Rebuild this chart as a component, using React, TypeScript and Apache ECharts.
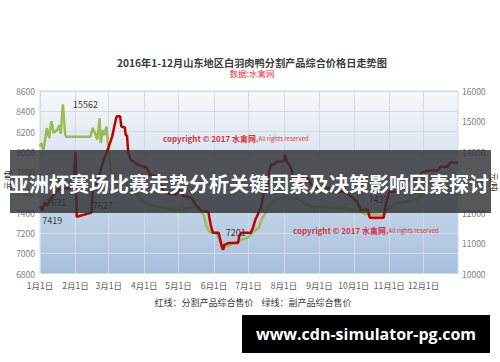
import React, { useEffect, useRef } from 'react';
import * as echarts from 'echarts';

const chartTitle = '2016年1-12月山东地区白羽肉鸭分割产品综合价格日走势图';
const sourceText = '数据:水禽网';
const legendText = '红线：分割产品综合售价    绿线：副产品综合售价';
const bannerText = '亚洲杯赛场比赛走势分析关键因素及决策影响因素探讨';
const siteText = 'www.cdn-simulator-pg.com';
const unitText = '元/吨';

// every day of 2016 (leap year) as a category
const monthLengths = [31, 29, 31, 30, 31, 30, 31, 31, 30, 31, 30, 31];
const dayCategories: string[] = [];
monthLengths.forEach((n, m) => {
  for (let d = 1; d <= n; d++) dayCategories.push(`${m + 1}月${d}日`);
});

// 分割产品综合售价 (left axis)
const redPrices: [string, number][] = [
  ['1月1日', 7440], ['1月2日', 7460], ['1月3日', 7419], ['1月5日', 7500], ['1月7日', 7470],
  ['1月10日', 7530], ['1月12日', 7560], ['1月17日', 7631], ['1月30日', 7646], ['2月1日', 8000],
  ['2月2日', 7360], ['2月15日', 7400], ['2月16日', 7627], ['2月20日', 7700], ['2月25日', 7900],
  ['3月1日', 8050], ['3月4日', 8150], ['3月7日', 8310], ['3月8日', 8350], ['3月11日', 8350],
  ['3月12日', 8250], ['3月15日', 8240], ['3月16日', 8160], ['3月17日', 8160], ['3月18日', 8000],
  ['3月20日', 7925], ['3月26日', 7875], ['4月3日', 7845], ['4月6日', 7775], ['4月13日', 7755],
  ['4月16日', 7665], ['4月18日', 7597], ['4月29日', 7577], ['5月2日', 7637], ['5月5日', 7567],
  ['5月12日', 7548], ['5月16日', 7478], ['5月21日', 7419], ['5月27日', 7409], ['5月29日', 7280],
  ['5月31日', 7201], ['6月5日', 7201], ['6月6日', 7152], ['6月8日', 7053], ['6月9日', 7035],
  ['6月10日', 7082], ['6月14日', 7102], ['6月22日', 7102], ['6月23日', 7171], ['6月25日', 7201],
  ['7月3日', 7201], ['7月5日', 7250], ['7月7日', 7330], ['7月12日', 7448], ['7月14日', 7577],
  ['7月18日', 7706], ['7月19日', 7805], ['7月21日', 7875], ['7月23日', 7875], ['7月26日', 7904],
  ['8月1日', 7904], ['8月2日', 7970], ['8月4日', 7894], ['8月7日', 7845], ['8月9日', 7755],
  ['8月13日', 7760], ['8月22日', 7745], ['8月25日', 7676], ['8月27日', 7646], ['9月9日', 7646],
  ['9月12日', 7607], ['9月21日', 7607], ['9月27日', 7577], ['10月4日', 7508], ['10月7日', 7429],
  ['10月11日', 7429], ['10月13日', 7433], ['10月15日', 7350], ['10月27日', 7350], ['10月29日', 7478],
  ['11月1日', 7607], ['11月8日', 7607], ['11月11日', 7696], ['11月14日', 7716], ['11月26日', 7716],
  ['11月29日', 7795], ['12月5日', 7815], ['12月13日', 7815], ['12月16日', 7854], ['12月22日', 7854],
  ['12月24日', 7894], ['12月31日', 7894],
];

// 副产品综合售价 (right axis)
const greenPrices: [string, number][] = [
  ['1月1日', 14170], ['1月2日', 14290], ['1月4日', 14060], ['1月7日', 14780], ['1月9日', 14450],
  ['1月11日', 15010], ['1月13日', 14620], ['1月16日', 14720], ['1月18日', 14880], ['1月19日', 14590],
  ['1月21日', 15562], ['1月23日', 14550], ['1月24日', 14500], ['2月14日', 14500], ['2月16日', 14780],
  ['2月18日', 14620], ['2月20日', 14390], ['2月22日', 15100], ['2月23日', 14290], ['2月25日', 14720],
  ['2月26日', 14550], ['2月28日', 14830], ['2月29日', 14390], ['3月1日', 14060], ['3月3日', 13340],
  ['3月11日', 13070], ['3月20日', 12810], ['3月29日', 12410], ['4月6日', 12250], ['4月18日', 12150],
  ['4月30日', 12090], ['5月9日', 12150], ['5月17日', 12184], ['5月23日', 11921], ['5月25日', 11592],
  ['5月28日', 11362], ['6月3日', 11329], ['6月7日', 11000], ['6月10日', 10868], ['6月18日', 11000],
  ['6月24日', 11099], ['6月30日', 11164], ['7月5日', 11362], ['7月10日', 11493], ['7月13日', 11822],
  ['7月18日', 12118], ['7月22日', 12382], ['7月29日', 12480], ['8月12日', 12480], ['8月18日', 12316],
  ['8月26日', 12184], ['9月20日', 12151], ['10月3日', 12086], ['10月11日', 11954], ['10月27日', 11921],
  ['11月1日', 12151], ['11月7日', 12316], ['11月26日', 12414], ['12月1日', 12678], ['12月6日', 13072],
];

// points whose value is printed next to the line
const redLabelled = ['1月3日', '1月17日', '2月16日', '7月3日', '10月13日'];
const greenLabelled = ['1月21日'];

const labelPlacement: Record<string, { position: string; offset: [number, number] }> = {
  'r1月3日': { position: 'bottom', offset: [10, 0] },
  'r1月17日': { position: 'bottom', offset: [-2, 4] },
  'r2月16日': { position: 'bottom', offset: [10, 6] },
  'r7月3日': { position: 'left', offset: [0, 0] },
  'r10月13日': { position: 'top', offset: [11, 0] },
  'g1月21日': { position: 'right', offset: [5, 0] },
};

const FONT = '"Noto Sans CJK SC", "Noto Sans", sans-serif';

function buildData(rows: [string, number][], labelled: string[], key: string) {
  return rows.map(([d, v]) => {
    if (!labelled.includes(d)) return { value: [d, v] };
    const p = labelPlacement[key + d];
    return {
      value: [d, v],
      label: {
        show: true,
        position: p.position,
        offset: p.offset,
        distance: 5,
        fontSize: 9,
        color: '#3a3a3a',
        fontFamily: FONT,
        formatter: String(v),
      },
    };
  });
}

const isMonthStart = (_i: number, v: string) => /月1日$/.test(v);
const plainNumber = (v: number) => String(v);

function copyright(x: number, y: number) {
  return {
    type: 'text',
    x,
    y,
    z: 1,
    style: {
      text: '{a|copyright © 2017 水禽网.}{b|All rights reserved}',
      verticalAlign: 'middle',
      rich: {
        a: { fontSize: 8, fontWeight: 'bold', fill: '#d9303c', fontFamily: FONT },
        b: { fontSize: 6, fill: '#d9303c', fontFamily: FONT },
      },
    },
  };
}

export default function App() {
  const ref = useRef<HTMLDivElement>(null);

  useEffect(() => {
    if (!ref.current) return;
    const chart = echarts.init(ref.current, null, { renderer: 'svg' });
    const gridColor = '#d3dae4';

    chart.setOption({
      animation: false,
      backgroundColor: '#ffffff',
      textStyle: { fontFamily: FONT },
      grid: {
        left: 40,
        right: 42,
        top: 91,
        height: 182.5,
        show: true,
        borderColor: gridColor,
        borderWidth: 1,
        backgroundColor: new echarts.graphic.LinearGradient(0, 0, 0, 1, [
          { offset: 0, color: '#f7f8fb' },
          { offset: 0.5, color: '#d0dcea' },
          { offset: 1, color: '#a6bfdd' },
        ]),
      },
      xAxis: {
        type: 'category',
        data: dayCategories,
        boundaryGap: false,
        axisLine: { show: false },
        axisTick: { show: false },
        axisLabel: {
          interval: isMonthStart,
          fontSize: 8.5,
          color: '#5a5a5a',
          margin: 7,
          fontFamily: FONT,
        },
        splitLine: { show: true, interval: isMonthStart, lineStyle: { color: gridColor, width: 1 } },
      },
      yAxis: [
        {
          type: 'value',
          min: 6800,
          max: 8600,
          interval: 200,
          axisLine: { show: false },
          axisTick: { show: false },
          axisLabel: { fontSize: 8.5, color: '#808080', margin: 5, fontFamily: FONT, formatter: plainNumber },
          splitLine: { show: true, lineStyle: { color: gridColor, width: 1 } },
        },
        {
          type: 'value',
          min: 10000,
          max: 16000,
          interval: 1000,
          axisLine: { show: false },
          axisTick: { show: false },
          axisLabel: { fontSize: 8.5, color: '#808080', margin: 4, fontFamily: FONT, formatter: plainNumber },
          splitLine: { show: false },
        },
      ],
      series: [
        {
          name: '副产品综合售价',
          type: 'line',
          yAxisIndex: 1,
          data: buildData(greenPrices, greenLabelled, 'g'),
          showSymbol: true,
          showAllSymbol: true,
          symbol: 'circle',
          symbolSize: 0.1,
          itemStyle: { color: '#9bbb59' },
          lineStyle: { color: '#9bbb59', width: 2.5 },
          z: 2,
        },
        {
          name: '分割产品综合售价',
          type: 'line',
          yAxisIndex: 0,
          data: buildData(redPrices, redLabelled, 'r'),
          showSymbol: true,
          showAllSymbol: true,
          symbol: 'circle',
          symbolSize: 0.1,
          itemStyle: { color: '#c00000' },
          lineStyle: { color: '#c00000', width: 2.5 },
          z: 3,
        },
      ],
      graphic: [
        {
          type: 'text',
          x: 252,
          y: 62,
          style: {
            text: chartTitle,
            align: 'center',
            verticalAlign: 'middle',
            fontSize: 10.2,
            fontWeight: 'bold',
            fill: '#3c3c3c',
            fontFamily: FONT,
          },
        },
        {
          type: 'text',
          x: 252,
          y: 73,
          style: {
            text: sourceText,
            align: 'center',
            verticalAlign: 'middle',
            fontSize: 8.5,
            fill: '#e3313f',
            fontFamily: FONT,
          },
        },
        copyright(163, 138),
        copyright(293, 230),
        {
          type: 'text',
          x: 253,
          y: 302,
          style: {
            text: legendText,
            align: 'center',
            verticalAlign: 'middle',
            fontSize: 9,
            fill: '#3a3a3a',
            fontFamily: FONT,
          },
        },
        {
          type: 'text',
          x: 7,
          y: 180,
          rotation: Math.PI / 2,
          z: 50,
          style: { text: unitText, align: 'center', verticalAlign: 'middle', fontSize: 8, fill: '#222', fontFamily: FONT },
        },
        {
          type: 'text',
          x: 494,
          y: 182,
          rotation: -Math.PI / 2,
          z: 50,
          style: { text: unitText, align: 'center', verticalAlign: 'middle', fontSize: 8, fill: '#222', fontFamily: FONT },
        },
        {
          type: 'rect',
          z: 100,
          shape: { x: 10, y: 150, width: 481, height: 63 },
          style: { fill: 'rgba(48, 50, 54, 0.82)' },
        },
        {
          type: 'text',
          x: 249,
          y: 183,
          z: 101,
          style: {
            text: bannerText,
            align: 'center',
            verticalAlign: 'middle',
            fontSize: 20,
            fontWeight: 'bold',
            fill: '#ffffff',
            fontFamily: '"Noto Sans CJK SC", sans-serif',
          },
        },
        {
          type: 'rect',
          z: 100,
          shape: { x: 242, y: 315, width: 248, height: 38 },
          style: { fill: '#000000' },
        },
        {
          type: 'text',
          x: 366,
          y: 334,
          z: 101,
          style: {
            text: siteText,
            align: 'center',
            verticalAlign: 'middle',
            fontSize: 16,
            fontWeight: 'bold',
            fill: '#ffffff',
            fontFamily: '"Open Sans", "Noto Sans", sans-serif',
          },
        },
      ],
    });

    return () => chart.dispose();
  }, []);

  return <div ref={ref} style={{ width: 500, height: 362, position: 'absolute', left: 0, top: 0 }} />;
}
